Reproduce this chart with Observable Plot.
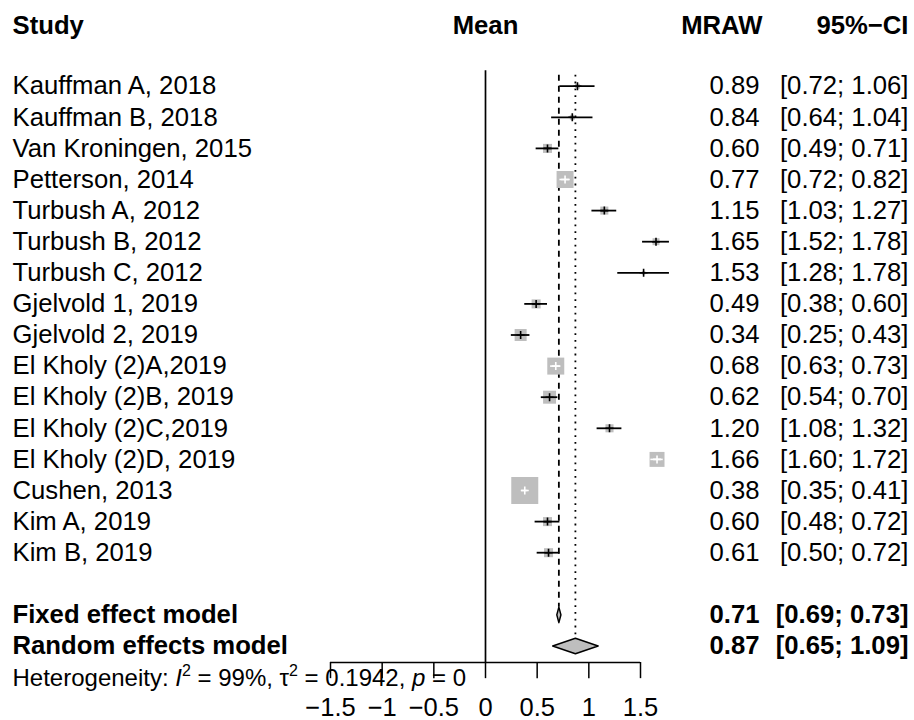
<!DOCTYPE html>
<html><head><meta charset="utf-8">
<script src="https://cdn.jsdelivr.net/npm/d3@7"></script>
<script src="https://cdn.jsdelivr.net/npm/@observablehq/plot@0.6"></script>
<style>body{margin:0;background:#fff}</style>
</head><body>
<div id="chart"></div>
<script>
// ---- data ----
const studies = ["Kauffman A, 2018","Kauffman B, 2018","Van Kroningen, 2015","Petterson, 2014",
  "Turbush A, 2012","Turbush B, 2012","Turbush C, 2012","Gjelvold 1, 2019","Gjelvold 2, 2019",
  "El Kholy (2)A,2019","El Kholy (2)B, 2019","El Kholy (2)C,2019","El Kholy (2)D, 2019",
  "Cushen, 2013","Kim A, 2019","Kim B, 2019"];
const means  = [0.89,0.84,0.60,0.77,1.15,1.65,1.53,0.49,0.34,0.68,0.62,1.20,1.66,0.38,0.60,0.61];
const lower  = [0.72,0.64,0.49,0.72,1.03,1.52,1.28,0.38,0.25,0.63,0.54,1.08,1.60,0.35,0.48,0.50];
const upper  = [1.06,1.04,0.71,0.82,1.27,1.78,1.78,0.60,0.43,0.73,0.70,1.32,1.72,0.41,0.72,0.72];
const weights = [1.0,1.0,3.4,12.0,2.7,2.0,0.5,3.4,6.0,12.0,7.0,2.7,9.3,30.3,3.4,3.4];
const modelNames = ["Fixed effect model","Random effects model"];
const modelMeans = [0.71,0.87];
const modelLower = [0.69,0.65];
const modelUpper = [0.73,1.09];
const headers = ["Study","Mean","MRAW","95%−CI"];
const hetParts = [["Heterogeneity: ",""],["I","i"],["2","sup"],[" = 99%, τ",""],["2","sup"],[" = 0.1942, ",""],["p","i"],[" = 0",""]];
const tickValues = [-1.5,-1,-0.5,0,0.5,1,1.5];
const tickLabels = ["−1.5","−1","−0.5","0","0.5","1","1.5"];

// ---- layout constants ----
const W = 914, H = 720;
const X_RANGE = [330, 640];          // pixel span of [-1.5, 1.5]
const PX_PER_UNIT = (X_RANGE[1] - X_RANGE[0]) / 3;
const Y_RANGE = [85.7, 552.2];       // pixel rows 0 .. 15
const SQ_MAX = 27;                   // side of largest square (px)
const FS = 25.7;
const FONT = "'Liberation Sans', Arial, Helvetica, sans-serif";
const HEADER_ROW = -1.95, FIXED_ROW = 17, RANDOM_ROW = 18, HET_ROW = 19.03;
const AXIS_ROW = 18.53, TICK_END = 19.05, TICKLABEL_ROW = 20.0;
const DH = 0.25;                     // diamond half height in rows

const fmt = v => v.toFixed(2);
const rows = studies.map((s, i) => ({study: s, mean: means[i], lo: lower[i], hi: upper[i], w: weights[i], row: i}));
const wMax = d3.max(weights);
const side = d => SQ_MAX * Math.sqrt(d.w / wMax);
rows.forEach(d => d.inside = (d.hi - d.lo) * PX_PER_UNIT < side(d));
const models = modelNames.map((m, i) => ({name: m, mean: modelMeans[i], lo: modelLower[i], hi: modelUpper[i], row: i === 0 ? FIXED_ROW : RANDOM_ROW}));
const diamondPts = models.flatMap(m => [
  {z: m.name, x: m.lo, y: m.row}, {z: m.name, x: m.mean, y: m.row - DH},
  {z: m.name, x: m.hi, y: m.row}, {z: m.name, x: m.mean, y: m.row + DH}]);

const plusSymbol = {draw(ctx, size) { const s = Math.sqrt(size) / 2; ctx.moveTo(-s, 0); ctx.lineTo(s, 0); ctx.moveTo(0, -s); ctx.lineTo(0, s); }};

const chart = Plot.plot({
  width: W, height: H,
  marginTop: 0, marginRight: 0, marginBottom: 0, marginLeft: 0,
  x: {domain: [-1.5, 1.5], range: X_RANGE, axis: null},
  y: {domain: [0, 15], range: Y_RANGE, axis: null},
  r: {domain: [0, wMax], range: [0, SQ_MAX / Math.sqrt(Math.PI)]},
  style: {fontFamily: FONT, fontSize: FS + "px", color: "#000", background: "#fff", overflow: "visible"},
  marks: [
    // reference line at 0
    Plot.ruleX([0], {y1: -0.5, y2: AXIS_ROW, stroke: "#000", strokeWidth: 1.7}),
    // fixed & random effect lines
    Plot.ruleX([modelMeans[0]], {y1: -0.35, y2: FIXED_ROW - DH, stroke: "#000", strokeWidth: 1.8, strokeDasharray: "6,5"}),
    Plot.ruleX([modelMeans[1]], {y1: -0.35, y2: RANDOM_ROW - DH, stroke: "#000", strokeWidth: 1.8, strokeDasharray: "1.8,5"}),
    // squares
    Plot.dot(rows, {x: "mean", y: "row", r: "w", symbol: "square", fill: "#bebebe", stroke: "none"}),
    // confidence intervals
    Plot.ruleY(rows, {filter: d => !d.inside, y: "row", x1: "lo", x2: "hi", stroke: "#000", strokeWidth: 1.8}),
    Plot.ruleY(rows, {filter: d => d.inside, y: "row", x1: "lo", x2: "hi", stroke: "#fff", strokeWidth: 1.6}),
    Plot.dot(rows, {filter: d => !d.inside, x: "mean", y: "row", r: 4.5, symbol: plusSymbol, fill: "none", stroke: "#000", strokeWidth: 1.6}),
    Plot.dot(rows, {filter: d => d.inside, x: "mean", y: "row", r: 4.5, symbol: plusSymbol, fill: "none", stroke: "#fff", strokeWidth: 1.6}),
    // diamonds
    Plot.line(diamondPts, {x: "x", y: "y", z: "z", curve: "linear-closed", fill: "#bebebe", stroke: "#000", strokeWidth: 1.5}),
    // axis
    Plot.ruleY([AXIS_ROW], {x1: tickValues[0], x2: tickValues[tickValues.length - 1], stroke: "#000", strokeWidth: 1.5}),
    Plot.ruleX(tickValues, {y1: AXIS_ROW, y2: TICK_END, stroke: "#000", strokeWidth: 1.5}),
    Plot.text(tickValues, {x: d => d, y: TICKLABEL_ROW, text: (d, i) => tickLabels[i], fontSize: 25.5, fill: "#000"}),
    // headers
    Plot.text([headers[0]], {y: HEADER_ROW, frameAnchor: "left", dx: 12, textAnchor: "start", fontWeight: "bold", text: d => d, fill: "#000"}),
    Plot.text([headers[1]], {x: 0, y: HEADER_ROW, textAnchor: "middle", fontWeight: "bold", text: d => d, fill: "#000"}),
    Plot.text([headers[2]], {y: HEADER_ROW, frameAnchor: "right", dx: -152, textAnchor: "end", fontWeight: "bold", text: d => d, fill: "#000"}),
    Plot.text([headers[3]], {y: HEADER_ROW, frameAnchor: "right", dx: -6, textAnchor: "end", fontWeight: "bold", text: d => d, fill: "#000"}),
    // study rows
    Plot.text(rows, {y: "row", frameAnchor: "left", dx: 12, textAnchor: "start", text: "study", fill: "#000"}),
    Plot.text(rows, {y: "row", frameAnchor: "right", dx: -155, textAnchor: "end", text: d => fmt(d.mean), fill: "#000"}),
    Plot.text(rows, {y: "row", frameAnchor: "right", dx: -6, textAnchor: "end", text: d => `[${fmt(d.lo)}; ${fmt(d.hi)}]`, fill: "#000"}),
    // model rows
    Plot.text(models, {y: "row", frameAnchor: "left", dx: 12, textAnchor: "start", fontWeight: "bold", text: "name", fill: "#000"}),
    Plot.text(models, {y: "row", frameAnchor: "right", dx: -155, textAnchor: "end", fontWeight: "bold", text: d => fmt(d.mean), fill: "#000"}),
    Plot.text(models, {y: "row", frameAnchor: "right", dx: -6, textAnchor: "end", fontWeight: "bold", text: d => `[${fmt(d.lo)}; ${fmt(d.hi)}]`, fill: "#000"}),
    // heterogeneity
    Plot.text([hetParts.map(p => p[0]).join("")], {y: HET_ROW, frameAnchor: "left", dx: 12, textAnchor: "start", fontSize: 24, text: d => d, fill: "#000"})
  ]
});
document.getElementById("chart").appendChild(chart);

// rich formatting of the heterogeneity line (italics and superscripts)
d3.select(chart).selectAll("text").filter(function() { return this.textContent.startsWith("Heterogeneity"); })
  .each(function() {
    const t = d3.select(this);
    t.text(null);
    let shifted = false;
    hetParts.forEach(([s, kind]) => {
      const sp = t.append("tspan").text(s);
      if (kind === "i") sp.attr("font-style", "italic");
      if (kind === "sup") { sp.attr("font-size", 16).attr("dy", -10); shifted = true; }
      else if (shifted) { sp.attr("dy", 10); shifted = false; }
    });
  });
</script>
</body></html>
